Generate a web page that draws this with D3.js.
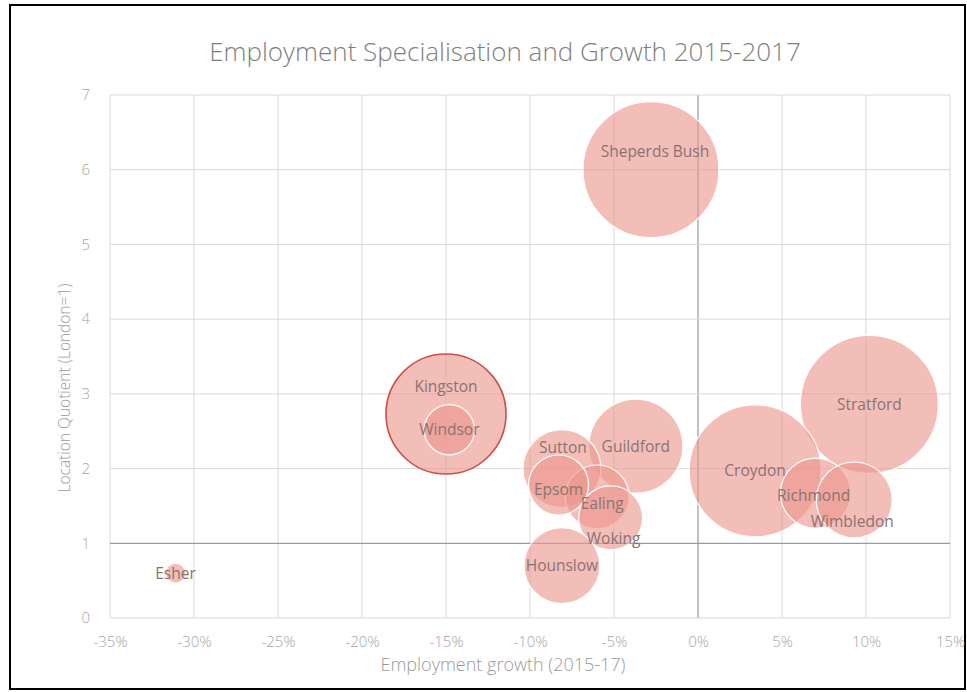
<!DOCTYPE html>
<html>
<head>
<meta charset="utf-8">
<script src="https://cdn.jsdelivr.net/npm/d3@7"></script>
<style>
  body { margin: 0; background: #fff; }
  svg { display: block; font-family: "Open Sans", sans-serif; }
</style>
</head>
<body>
<svg id="chart"></svg>
<script>
// Data
const places = ["Sheperds Bush", "Stratford", "Croydon", "Kingston", "Windsor", "Guildford",
    "Sutton", "Ealing", "Epsom", "Woking", "Richmond", "Wimbledon", "Hounslow", "Esher"];
const growth = [-0.028, 0.102, 0.034, -0.150, -0.148, -0.037,
    -0.081, -0.060, -0.083, -0.052, 0.070, 0.093, -0.081, -0.311];
const quotient = [6.0, 2.86, 1.97, 2.73, 2.52, 2.30,
    2.00, 1.62, 1.78, 1.34, 1.67, 1.58, 0.70, 0.60];
const jobs = [46200, 47600, 43600, 36000, 6300, 22100,
    15200, 10200, 9000, 10200, 12300, 14400, 14400, 1000];

const xTicks = [-0.35, -0.30, -0.25, -0.20, -0.15, -0.10, -0.05, 0, 0.05, 0.10, 0.15];
const yTicks = [0, 1, 2, 3, 4, 5, 6, 7];

const width = 967;
const height = 692;

const svg = d3.select("#chart")
    .attr("width", width)
    .attr("height", height);

const x = d3.scaleLinear().domain([-0.35, 0.15]).range([110, 950]);
const y = d3.scaleLinear().domain([0, 7]).range([618, 95]);
const r = d3.scaleSqrt().domain([0, 47600]).range([0, 69]);

// outer frame
svg.append("rect")
    .attr("x", 10).attr("y", 5)
    .attr("width", 955).attr("height", 684)
    .attr("fill", "none")
    .attr("stroke", "#000")
    .attr("stroke-width", 2);

// title
svg.append("text")
    .attr("x", 505).attr("y", 61)
    .attr("text-anchor", "middle")
    .attr("font-size", 26)
    .attr("font-weight", 300)
    .attr("fill", "#7f7f7f")
    .text("Employment Specialisation and Growth 2015-2017");

// grid
const grid = svg.append("g");
grid.selectAll(".vline")
    .data(xTicks)
    .enter()
    .append("line")
    .attr("x1", d => x(d)).attr("x2", d => x(d))
    .attr("y1", y(7)).attr("y2", y(0))
    .attr("stroke", d => d === 0 ? "#8e9ba3" : "#d9d9d9")
    .attr("stroke-width", d => d === 0 ? 1.2 : 1);
grid.selectAll(".hline")
    .data(yTicks)
    .enter()
    .append("line")
    .attr("x1", x(-0.35)).attr("x2", x(0.15))
    .attr("y1", d => y(d)).attr("y2", d => y(d))
    .attr("stroke", d => d === 1 ? "#8aa0ab" : "#d9d9d9")
    .attr("stroke-width", d => d === 1 ? 1.2 : 1);

// axes (labels only)
const xAxis = svg.append("g")
    .attr("transform", `translate(0,${y(0)})`)
    .call(d3.axisBottom(x).tickValues(xTicks).tickSize(0).tickPadding(18)
        .tickFormat(d => Math.round(d * 100) + "%"));
const yAxis = svg.append("g")
    .attr("transform", `translate(${x(-0.35)},0)`)
    .call(d3.axisLeft(y).tickValues(yTicks).tickSize(0).tickPadding(20)
        .tickFormat(d3.format("d")));
[xAxis, yAxis].forEach(a => {
    a.select(".domain").remove();
    a.selectAll("text")
        .attr("font-family", "'Open Sans', sans-serif")
        .attr("font-size", 15)
        .attr("font-weight", 300)
        .attr("fill", "#a6a6a6");
});

svg.append("text")
    .attr("x", 503).attr("y", 671)
    .attr("text-anchor", "middle")
    .attr("font-size", 18)
    .attr("font-weight", 300)
    .attr("fill", "#9a9a9a")
    .text("Employment growth (2015-17)");

svg.append("text")
    .attr("transform", "translate(70,388) rotate(-90)")
    .attr("text-anchor", "middle")
    .attr("font-size", 15.5)
    .attr("font-weight", 300)
    .attr("fill", "#9a9a9a")
    .text("Location Quotient (London=1)");

// bubbles
const rows = places.map((p, i) => ({ name: p, gx: growth[i], lq: quotient[i], size: jobs[i] }));

svg.append("g")
    .selectAll("circle")
    .data(rows)
    .enter()
    .append("circle")
    .attr("cx", d => x(d.gx))
    .attr("cy", d => y(d.lq))
    .attr("r", d => r(d.size))
    .attr("fill", "rgba(236,150,140,0.62)")
    .attr("stroke", d => d.name === "Kingston" ? "#cc4f47" : "#fff")
    .attr("stroke-width", d => d.name === "Kingston" ? 1.6 : 1.2);

// label nudges, matching where the labels were dragged in the original
const nudge = {
    "Sheperds Bush": [4, -18], "Kingston": [0, -27], "Sutton": [1, -21],
    "Epsom": [0, 5], "Ealing": [5, 7], "Woking": [3, 21],
    "Wimbledon": [-2, 22], "Richmond": [-2, 2]
};

svg.append("g")
    .selectAll("text")
    .data(rows)
    .enter()
    .append("text")
    .attr("x", d => x(d.gx) + (nudge[d.name] || [0, 0])[0])
    .attr("y", d => y(d.lq) + (nudge[d.name] || [0, 0])[1])
    .attr("dy", "0.35em")
    .attr("text-anchor", "middle")
    .attr("font-size", 15.5)
    .attr("fill", "#8a7373")
    .text(d => d.name);
</script>
</body>
</html>
